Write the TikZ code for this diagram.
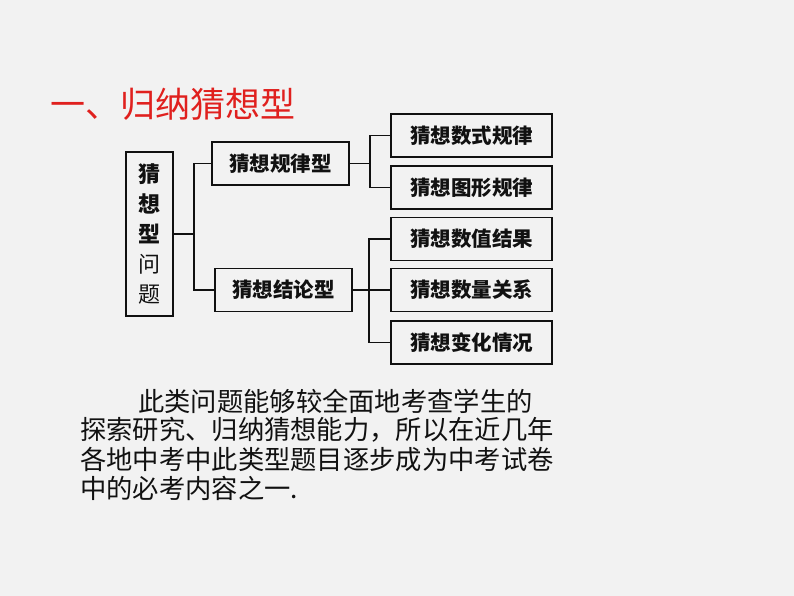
\documentclass[tikz,border=0pt]{standalone}
\usepackage{fontspec}
\setmainfont{Noto Sans CJK SC}
\definecolor{bgc}{HTML}{F2F2F2}
\definecolor{titlered}{HTML}{E0201E}
\definecolor{ink}{HTML}{111111}
\tikzset{
  box/.style={draw=ink, line width=1.8pt, inner sep=0pt, minimum height=43pt, text=ink,
    font=\fontsize{20.5}{24}\selectfont\bfseries},
  conn/.style={draw=ink, line width=1.5pt},
  para/.style={anchor=west, inner sep=0pt, text=ink, font=\fontsize{26.3}{30}\selectfont}
}
\begin{document}
\begin{tikzpicture}[x=1pt,y=-1pt]
\fill[bgc] (0,0) rectangle (794,596);
\useasboundingbox (0,0) rectangle (794,596);

\node[anchor=west, inner sep=0pt, text=titlered, font=\fontsize{35}{40}\selectfont] (title) at (50,104) {一、归纳猜想型};

\node[box, minimum width=47pt, minimum height=164pt, align=center,
  font=\fontsize{22}{30}\selectfont] (L) at (149.5,234)
  {\textbf{猜}\\\textbf{想}\\\textbf{型}\\问\\题};

\node[box, minimum width=137pt] (g1) at (280.5,163.5) {猜想规律型};
\node[box, minimum width=137pt] (g2) at (283.5,290) {猜想结论型};

\node[box, minimum width=161pt] (A) at (471.5,135.5) {猜想数式规律};
\node[box, minimum width=161pt] (B) at (471.5,187.5) {猜想图形规律};
\node[box, minimum width=161pt] (C) at (471.5,239) {猜想数值结果};
\node[box, minimum width=161pt] (D) at (471.5,290) {猜想数量关系};
\node[box, minimum width=161pt] (E) at (471.5,342.5) {猜想变化情况};

\coordinate (b1) at (194,0);
\coordinate (b2) at (370,0);
\coordinate (b3) at (369,0);

\draw[conn] (L.east) -- (L.east -| b1);
\draw[conn] (g1.west) -- (g1.west -| b1) -- (g2.west -| b1) -- (g2.west);

\draw[conn] (g1.east) -- (g1.east -| b2);
\draw[conn] (A.west) -- (A.west -| b2) -- (B.west -| b2) -- (B.west);

\draw[conn] (g2.east) -- (D.west);
\draw[conn] (C.west) -- (C.west -| b3) -- (E.west -| b3) -- (E.west);

\node[para] (p1) at (138,401) {此类问题能够较全面地考查学生的};
\node[para] (p2) at (80,430) {探索研究、归纳猜想能力，所以在近几年};
\node[para] (p3) at (80,459) {各地中考中此类型题目逐步成为中考试卷};
\node[para] (p4) at (80,488) {中的必考内容之一.};
\end{tikzpicture}
\end{document}
